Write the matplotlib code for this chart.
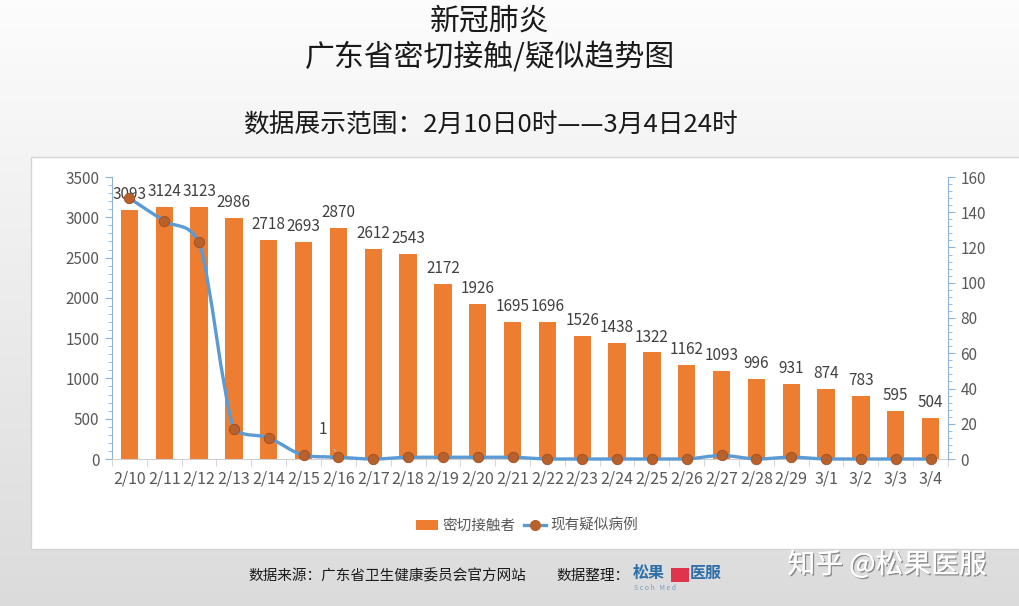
import numpy as np
import matplotlib
matplotlib.use('Agg')
import matplotlib.pyplot as plt
import matplotlib.patheffects as pe
from matplotlib.path import Path
from matplotlib.patches import PathPatch, Rectangle, Patch
from matplotlib.lines import Line2D
from matplotlib.ticker import MultipleLocator

plt.rcParams['font.family'] = ['Noto Sans CJK SC', 'DejaVu Sans']

# data
dates = ['2/10', '2/11', '2/12', '2/13', '2/14', '2/15', '2/16', '2/17', '2/18', '2/19',
         '2/20', '2/21', '2/22', '2/23', '2/24', '2/25', '2/26', '2/27', '2/28', '2/29',
         '3/1', '3/2', '3/3', '3/4']
contacts = [3093, 3124, 3123, 2986, 2718, 2693, 2870, 2612, 2543, 2172,
            1926, 1695, 1696, 1526, 1438, 1322, 1162, 1093, 996, 931,
            874, 783, 595, 504]
suspected = [148, 135, 123, 17, 12, 2, 1, 0, 1, 1,
             1, 1, 0, 0, 0, 0, 0, 2, 0, 1,
             0, 0, 0, 0]

BAR = '#ED7D31'
LINE = '#5B9BD5'
DOT = '#B9612B'
AXIS = '#8DB3D9'
TXT = '#404040'

W, H = 1020, 606
fig = plt.figure(figsize=(W / 100, H / 100), dpi=100)

# background gradient
bg = fig.add_axes([0, 0, 1, 1], zorder=-10)
grad = np.linspace(0, 1, 256).reshape(-1, 1)
top = np.array([0.99, 0.99, 0.99])
bot = np.array([0.86, 0.86, 0.86])
img = top + (bot - top) * grad[:, :, None]
bg.imshow(img, aspect='auto', extent=[0, 1, 0, 1])
bg.axis('off')

# white panel
fig.patches.append(Rectangle((31 / W, 1 - 549 / H), 1 - 31 / W, (549 - 157) / H,
                             transform=fig.transFigure, facecolor='white',
                             edgecolor='#d4d4d4', lw=1, zorder=-5))

# titles
tx = 490 / W
fig.text(tx, 1 - 21 / H, '新冠肺炎', ha='center', va='center', fontsize=21.5, color='#1a1a1a')
fig.text(tx, 1 - 57 / H, '广东省密切接触/疑似趋势图', ha='center', va='center',
         fontsize=21.5, color='#1a1a1a')
fig.text(tx, 1 - 126 / H, '数据展示范围：2月10日0时——3月4日24时', ha='center',
         va='center', fontsize=18.5, color='#1a1a1a')

ax = fig.add_axes([112 / W, 1 - 459 / H, (948 - 112) / W, (459 - 177) / H])
ax.patch.set_visible(False)
x = np.arange(len(dates))

ax.bar(x, contacts, width=0.5, color=BAR, zorder=2)
for xi, v in zip(x, contacts):
    ax.annotate(str(v), (xi, v), xytext=(0, 5), textcoords='offset points',
                ha='center', va='bottom', fontsize=11, color=TXT)

ax.set_xlim(-0.5, len(dates) - 0.5)
ax.set_ylim(0, 3500)
ax.yaxis.set_major_locator(MultipleLocator(500))
ax.yaxis.set_minor_locator(MultipleLocator(100))
ax.set_xticks(x)
ax.set_xticklabels(dates)
ax.set_xticks(np.arange(len(dates) + 1) - 0.5, minor=True)
ax.tick_params(axis='x', which='major', length=0, pad=8, labelsize=11.5, labelcolor='#595959')
ax.tick_params(axis='x', which='minor', length=5, color='#cfcfcf', direction='out')
ax.tick_params(axis='y', which='major', length=5, color=AXIS, labelsize=11,
               labelcolor='#595959', pad=4)
ax.tick_params(axis='y', which='minor', length=3, color=AXIS)
for s in ['top', 'right']:
    ax.spines[s].set_visible(False)
ax.spines['left'].set_color(AXIS)
ax.spines['bottom'].set_color('#cfcfcf')

ax2 = ax.twinx()
ax2.set_ylim(0, 160)
ax2.yaxis.set_major_locator(MultipleLocator(20))
ax2.yaxis.set_minor_locator(MultipleLocator(4))
ax2.tick_params(axis='y', which='major', length=5, color=AXIS, labelsize=11,
                labelcolor='#595959', pad=4)
ax2.tick_params(axis='y', which='minor', length=3, color=AXIS)
for s in ['top', 'left', 'bottom']:
    ax2.spines[s].set_visible(False)
ax2.spines['right'].set_color(AXIS)

# smoothed line (Catmull-Rom style bezier through data points)
xs = x.astype(float)
ys = np.array(suspected, dtype=float)
n = len(xs)
verts = [(xs[0], ys[0])]
codes = [Path.MOVETO]
for i in range(n - 1):
    p0 = i - 1 if i > 0 else i
    p3 = i + 2 if i + 2 < n else i + 1
    lo, hi = min(ys[i], ys[i + 1]), max(ys[i], ys[i + 1])
    c1 = (xs[i] + (xs[i + 1] - xs[p0]) / 6, np.clip(ys[i] + (ys[i + 1] - ys[p0]) / 6, lo, hi))
    c2 = (xs[i + 1] - (xs[p3] - xs[i]) / 6, np.clip(ys[i + 1] - (ys[p3] - ys[i]) / 6, lo, hi))
    verts += [c1, c2, (xs[i + 1], ys[i + 1])]
    codes += [Path.CURVE4] * 3
ax2.add_patch(PathPatch(Path(verts, codes), facecolor='none', edgecolor=LINE,
                        lw=2.4, zorder=3, clip_on=False))
ax2.plot(xs, ys, 'o', ms=7.5, color=DOT, mec='#9c5125', mew=0.6, zorder=4, clip_on=False)

ax2.annotate('1', (xs[6], ys[6]), xytext=(-11, 20), textcoords='offset points',
             ha='center', va='center', fontsize=11, color=TXT,
             arrowprops=dict(arrowstyle='-', color='#bbbbbb', lw=0.8, shrinkA=7, shrinkB=5))

handles = [Patch(facecolor=BAR, edgecolor='none'),
           Line2D([], [], color=LINE, lw=2.4, marker='o', ms=7, mfc=DOT, mec=DOT)]
fig.legend(handles, ['密切接触者', '现有疑似病例'], loc='center',
           bbox_to_anchor=(527 / W, 1 - 526 / H), ncol=2, frameon=False, fontsize=10.5,
           handlelength=1.5, handletextpad=0.3, columnspacing=0.6, labelcolor='#595959')

# footer
fig.text(248 / W, 1 - 576 / H, '数据来源：广东省卫生健康委员会官方网站', ha='left', va='center',
         fontsize=10.5, color='#1a1a1a')
fig.text(556 / W, 1 - 576 / H, '数据整理：', ha='left', va='center', fontsize=10.5, color='#1a1a1a')
fig.text(633 / W, 1 - 573 / H, '松果', ha='left', va='center', fontsize=11.5,
         color='#2F6FA8', fontweight='bold')
fig.patches.append(Rectangle((671 / W, 1 - 582 / H), 18 / W, 14 / H, transform=fig.transFigure,
                             facecolor='#E0334C', edgecolor='none'))
fig.text(690 / W, 1 - 573 / H, '医服', ha='left', va='center', fontsize=11.5,
         color='#2F6FA8', fontweight='bold')
fig.text(634 / W, 1 - 588 / H, 'S c o h   M e d', ha='left', va='center', fontsize=5,
         color='#7a9cc0')

fig.text(887 / W, 1 - 565 / H, '知乎 @松果医服', ha='center', va='center', fontsize=20,
         color='white',
         path_effects=[pe.withSimplePatchShadow(offset=(1, -1), shadow_rgbFace='#555555',
                                                alpha=0.6), pe.Normal()])

fig.savefig('out.png', dpi=100)
